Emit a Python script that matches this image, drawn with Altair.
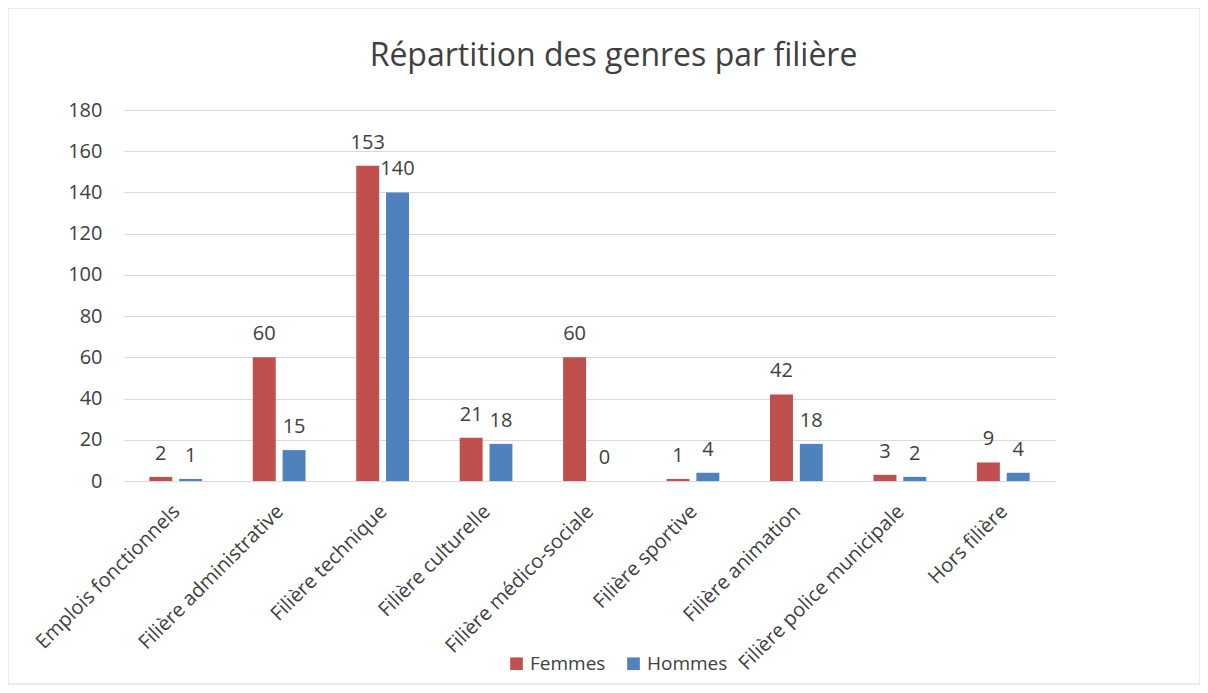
import altair as alt
import pandas as pd

categories = ["Emplois fonctionnels", "Filière administrative", "Filière technique",
              "Filière culturelle", "Filière médico-sociale", "Filière sportive",
              "Filière animation", "Filière police municipale", "Hors filière"]
femmes = [2, 60, 153, 21, 60, 1, 42, 3, 9]
hommes = [1, 15, 140, 18, 0, 4, 18, 2, 4]
series = ["Femmes", "Hommes"]
colors = ["#C0504D", "#4F81BD"]

rows = []
for c, f, h in zip(categories, femmes, hommes):
    rows.append({"cat": c, "genre": "Femmes", "val": f})
    rows.append({"cat": c, "genre": "Hommes", "val": h})
df = pd.DataFrame(rows)

FONT = "Open Sans"
W, H = 931, 371

x = alt.X("cat:N", sort=categories, title=None,
          scale=alt.Scale(paddingInner=0.49, paddingOuter=0.245),
          axis=alt.Axis(labelAngle=-45, labelAlign="right", labelBaseline="top",
                        ticks=False, domainColor="#d9d9d9", labelFontSize=20,
                        labelColor="#404040", labelPadding=20, labelOffset=-6, grid=False,
                        labelFont=FONT, labelLimit=400))
y = alt.Y("val:Q", title=None, scale=alt.Scale(domain=[0, 180]),
          axis=alt.Axis(values=list(range(0, 181, 20)), grid=True, gridColor="#d9d9d9",
                        domain=False, ticks=False, labelPadding=22, labelFontSize=20,
                        labelColor="#404040", labelFont=FONT))
xo = alt.XOffset("genre:N", sort=series, scale=alt.Scale(paddingInner=0.23, paddingOuter=0))
color = alt.Color("genre:N", sort=series, scale=alt.Scale(domain=series, range=colors),
                  legend=alt.Legend(orient="none", legendX=383, legendY=544,
                                    direction="horizontal", title=None, symbolType="square",
                                    symbolSize=160, symbolStrokeWidth=0, labelFontSize=19,
                                    labelFont=FONT, labelColor="#404040", columnPadding=18,
                                    labelOffset=4))

base = alt.Chart(df)
bars = base.mark_bar().encode(x=x, y=y, xOffset=xo, color=color)
labels = base.mark_text(dy=-17, baseline="alphabetic", fontSize=20, color="#404040",
                        font=FONT).encode(x=x, y=y, xOffset=xo, text="val:Q")

frame = alt.Chart(pd.DataFrame({"a": [0]})).mark_rect(
    fill=None, stroke="#d9d9d9", strokeWidth=1).encode(
    x=alt.value(-116), x2=alt.value(W + 145), y=alt.value(-102), y2=alt.value(H + 203))

chart = alt.layer(frame, bars, labels).properties(
    width=W, height=H,
    title=alt.Title("Répartition des genres par filière", fontSize=32, font=FONT,
                    color="#404040", fontWeight="normal", offset=0, dy=65, dx=24),
    autosize=alt.AutoSizeParams(type="none"),
    padding={"left": 116, "top": 102, "right": 145, "bottom": 212},
).configure_view(stroke=None)

chart.save("out.html", embed_options={"renderer": "svg", "actions": False})
